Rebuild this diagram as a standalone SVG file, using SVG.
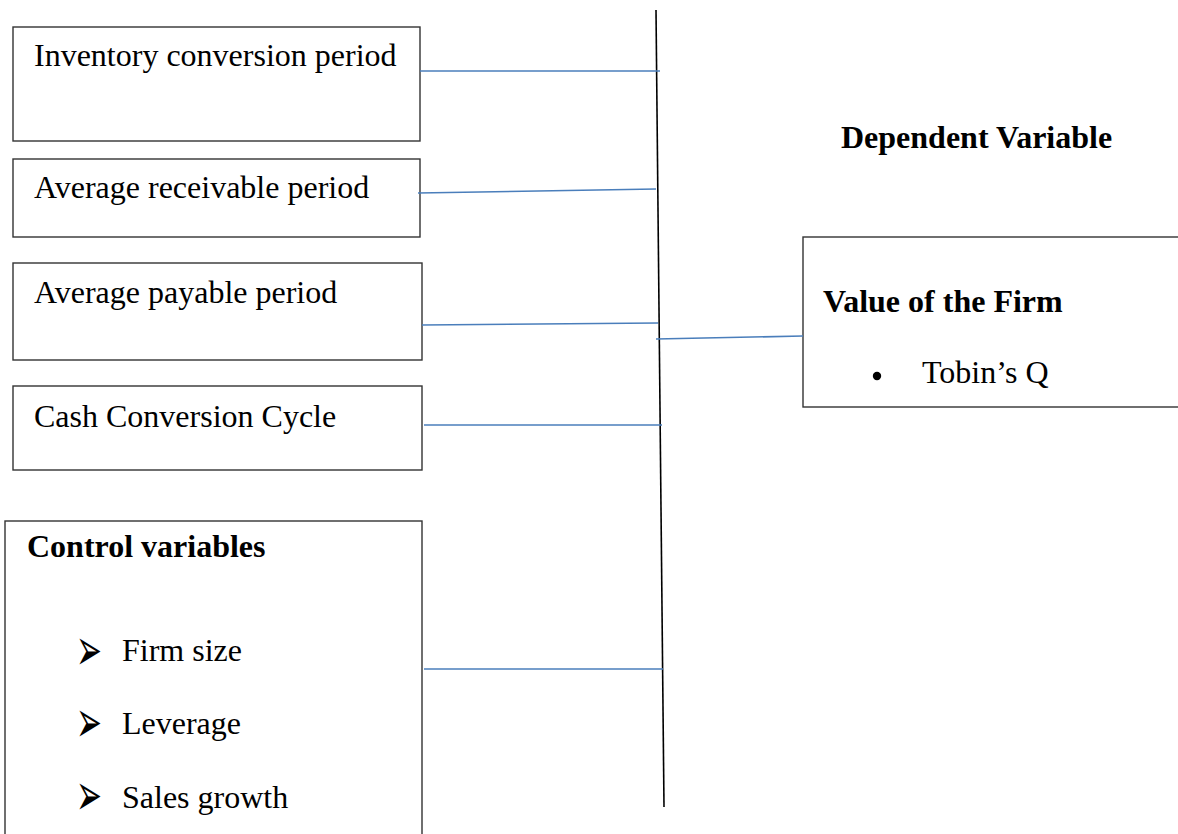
<svg xmlns="http://www.w3.org/2000/svg" width="1178" height="834" viewBox="0 0 1178 834">
<style>
.box{fill:#fff;stroke:#333;stroke-width:1.4}
.t{font-family:"Liberation Serif","Times New Roman",serif;font-size:32px;fill:#000}
.b{font-weight:bold}
.ar{font-family:"DejaVu Sans",sans-serif;font-size:31px;fill:#000}
.c{stroke:#4a7ebb;stroke-width:1.6;fill:none}
.ax{stroke:#000;stroke-width:1.6;fill:none}
</style>
<rect width="1178" height="834" fill="#fff"/>
<g id="n-inventory"><rect class="box" x="13" y="27" width="407" height="114"/><text class="t" x="34" y="66">Inventory conversion period</text></g>
<g id="n-receivable"><rect class="box" x="13" y="159" width="407" height="78"/><text class="t" x="34" y="198">Average receivable period</text></g>
<g id="n-payable"><rect class="box" x="13" y="263" width="409" height="97"/><text class="t" x="34" y="303">Average payable period</text></g>
<g id="n-ccc"><rect class="box" x="13" y="386" width="409" height="84"/><text class="t" x="34" y="427">Cash Conversion Cycle</text></g>
<g id="n-control"><rect class="box" x="5" y="521" width="417" height="330"/>
<text class="t b" x="27" y="557">Control variables</text>
<text class="ar" transform="translate(76,649) scale(1,1.9)" x="0" y="11.25">➢</text><text class="t" x="122" y="661">Firm size</text>
<text class="ar" transform="translate(76,721) scale(1,1.9)" x="0" y="11.25">➢</text><text class="t" x="122" y="734">Leverage</text>
<text class="ar" transform="translate(76,794) scale(1,1.9)" x="0" y="11.25">➢</text><text class="t" x="122" y="808">Sales growth</text>
</g>
<g id="n-dependent-label"><text class="t b" x="841" y="148">Dependent Variable</text></g>
<g id="n-value"><rect class="box" x="803" y="237" width="400" height="170"/>
<text class="t b" x="823" y="312">Value of the Firm</text>
<circle cx="877" cy="376" r="4.2" fill="#000"/>
<text class="t" x="922" y="383">Tobin’s Q</text>
</g>
<g id="connectors">
<line class="ax" x1="656" y1="10" x2="664" y2="807"/>
<line class="c" x1="420" y1="71" x2="660" y2="71"/>
<line class="c" x1="418" y1="193" x2="656" y2="189"/>
<line class="c" x1="422" y1="325" x2="658" y2="323"/>
<line class="c" x1="424" y1="425" x2="662" y2="425"/>
<line class="c" x1="424" y1="669" x2="663" y2="669"/>
<line class="c" x1="656" y1="339" x2="803" y2="336"/>
</g>
</svg>
